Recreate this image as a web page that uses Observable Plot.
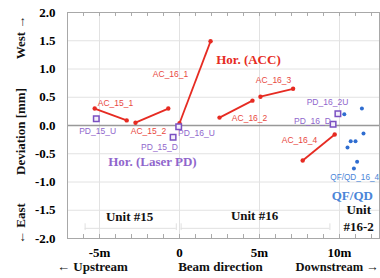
<!DOCTYPE html>
<html><head><meta charset="utf-8">
<script src="https://cdn.jsdelivr.net/npm/d3@7"></script>
<script src="https://cdn.jsdelivr.net/npm/@observablehq/plot@0.6"></script>
<style>body{margin:0;background:#fff}</style>
</head><body><div id="chart"></div>
<script>
// ACC horizontal deviation segments (m, mm)
const accNames = ["AC_15_1","AC_15_2","AC_16_1","AC_16_2","AC_16_3","AC_16_4"];
const accX1 = [-5.3, -2.75, 0.0, 2.5, 5.06, 7.7];
const accY1 = [0.30, 0.05, 0.04, 0.14, 0.51, -0.62];
const accX2 = [-3.3, -0.7, 1.94, 4.56, 7.1, 9.7];
const accY2 = [0.09, 0.30, 1.49, 0.44, 0.65, -0.16];
const accLabelX = [-4.0, -1.94, -0.56, 4.38, 5.88, 7.5];
const accLabelY = [0.39, -0.11, 0.90, 0.12, 0.80, -0.27];

// Laser PD points
const pdNames = ["PD_15_U","PD_15_D","PD_16_U","PD_16_2U","PD_16_D"];
const pdX = [-5.2, -0.4, -0.05, 9.9, 9.6];
const pdY = [0.12, -0.21, -0.02, 0.21, 0.02];
const pdLabelX = [-5.12, -1.25, 1.06, 9.25, 8.31];
const pdLabelY = [-0.11, -0.39, -0.14, 0.41, 0.07];

// QF/QD points
const qX = [10.3, 11.4, 11.5, 10.7, 11.0, 10.5, 11.1, 10.9];
const qY = [0.20, 0.30, -0.14, -0.28, -0.28, -0.39, -0.64, -0.76];

const yTicks = [-2, -1.5, -1, -0.5, 0, 0.5, 1, 1.5, 2];
const xTicks = [-5, 0, 5, 10];
const xTickLabels = ["-5m", "0", "5m", "10m"];
const minorX = d3.range(-7, 13, 1);

const acc = accNames.map((n, i) => ({n, x1: accX1[i], y1: accY1[i], x2: accX2[i], y2: accY2[i], lx: accLabelX[i], ly: accLabelY[i]}));
const accPts = acc.flatMap(d => [{x: d.x1, y: d.y1}, {x: d.x2, y: d.y2}]);
const pd = pdNames.map((n, i) => ({n, x: pdX[i], y: pdY[i], lx: pdLabelX[i], ly: pdLabelY[i]}));
const qf = qX.map((x, i) => ({x, y: qY[i]}));

const red = "#e62b22", redL = "#e8483e", purple = "#7a50c2", purpleL = "#9066cc", blue = "#2f6dd0", blueL = "#4a85d8";
const serif = "Liberation Serif, Times New Roman, serif";
const sans = "Liberation Sans, Arial, sans-serif";
const rot = {rotate: -90, textAnchor: "middle", lineAnchor: "middle", fill: "#111", fontSize: 13, text: d => d};

const chart = Plot.plot({
  width: 380, height: 278,
  marginTop: 12, marginBottom: 40, marginLeft: 67, marginRight: 1,
  x: {domain: [-7, 12.5]},
  y: {domain: [-2, 2]},
  style: {fontFamily: serif, fontSize: "13px", fontWeight: "bold", background: "#fff", overflow: "visible"},
  marks: [
    Plot.ruleY(yTicks, {stroke: "#e2e2e2", strokeWidth: 1}),
    Plot.ruleX(xTicks, {stroke: "#e2e2e2", strokeWidth: 1}),
    Plot.ruleX(minorX, {y1: -2, y2: -1.93, stroke: "#aaa"}),
    Plot.ruleX(minorX, {y1: 2, y2: 1.93, stroke: "#aaa"}),
    // unit brackets (faint)
    Plot.ruleY([-1.82], {x1: -5.9, x2: -0.2, stroke: "#e0e0e0"}),
    Plot.ruleY([-1.82], {x1: 0.1, x2: 9.4, stroke: "#e0e0e0"}),
    Plot.ruleX([-5.9, -0.2, 0.1, 9.4], {y1: -1.86, y2: -1.74, stroke: "#e0e0e0"}),
    Plot.ruleY([0], {stroke: "#999", strokeWidth: 1.6}),
    Plot.frame({stroke: "#a8a8a8"}),
    Plot.axisY({ticks: yTicks, tickFormat: d => d.toFixed(1), tickSize: 0, tickPadding: 12, label: null, fontSize: 13}),
    Plot.axisX({ticks: xTicks, tickFormat: d => xTickLabels[xTicks.indexOf(d)], tickSize: 0, tickPadding: 9, label: null, fontSize: 13}),
    // ACC
    Plot.link(acc, {x1: "x1", y1: "y1", x2: "x2", y2: "y2", stroke: red, strokeWidth: 1.8}),
    Plot.dot(accPts, {x: "x", y: "y", r: 2.2, fill: red}),
    Plot.text(acc, {x: "lx", y: "ly", text: "n", fill: redL, fontFamily: sans, fontWeight: "normal", fontSize: 8.5}),
    // PD
    Plot.dot(pd, {x: "x", y: "y", symbol: "square", r: 3.1, stroke: purple, strokeWidth: 1.5, fill: "#f3effa"}),
    Plot.text(pd, {x: "lx", y: "ly", text: "n", fill: purpleL, fontFamily: sans, fontWeight: "normal", fontSize: 8.5}),
    // QF/QD
    Plot.dot(qf, {x: "x", y: "y", r: 2, fill: blue}),
    Plot.text(["QF/QD_16_4"], {x: 10.95, y: -0.92, text: d => d, fill: blueL, fontFamily: sans, fontWeight: "normal", fontSize: 8.2}),
    // big labels
    Plot.text(["Hor. (ACC)"], {x: 4.31, y: 1.17, text: d => d, fill: red, fontSize: 13}),
    Plot.text(["Hor. (Laser PD)"], {x: -1.69, y: -0.65, text: d => d, fill: purpleL, fontSize: 13}),
    Plot.text(["QF/QD"], {x: 10.8, y: -1.24, text: d => d, fill: blueL, fontSize: 13}),
    Plot.text(["Unit #15"], {x: -3.12, y: -1.61, text: d => d, fill: "#111", fontSize: 13}),
    Plot.text(["Unit #16"], {x: 4.69, y: -1.59, text: d => d, fill: "#111", fontSize: 13}),
    Plot.text(["Unit"], {x: 11.2, y: -1.5, text: d => d, fill: "#111", fontSize: 13}),
    Plot.text(["#16-2"], {x: 11.2, y: -1.8, text: d => d, fill: "#111", fontSize: 13}),
    // axis titles
    Plot.text(["West \u2192"], {...rot, frameAnchor: "top-left", dx: -47, dy: 25}),
    Plot.text(["Deviation [mm]"], {...rot, frameAnchor: "left", dx: -47, dy: 6}),
    Plot.text(["\u2190 East"], {...rot, frameAnchor: "bottom-left", dx: -47, dy: -15}),
    Plot.text(["\u2190 Upstream"], {x: -5.44, frameAnchor: "bottom", dy: 32, text: d => d, fill: "#111", fontSize: 13}),
    Plot.text(["Beam direction"], {x: 2.56, frameAnchor: "bottom", dy: 32, text: d => d, fill: "#111", fontSize: 13}),
    Plot.text(["Downstream \u2192"], {x: 9.85, frameAnchor: "bottom", dy: 32, text: d => d, fill: "#111", fontSize: 12.5})
  ]
});
document.getElementById("chart").append(chart);
</script>
</body></html>
